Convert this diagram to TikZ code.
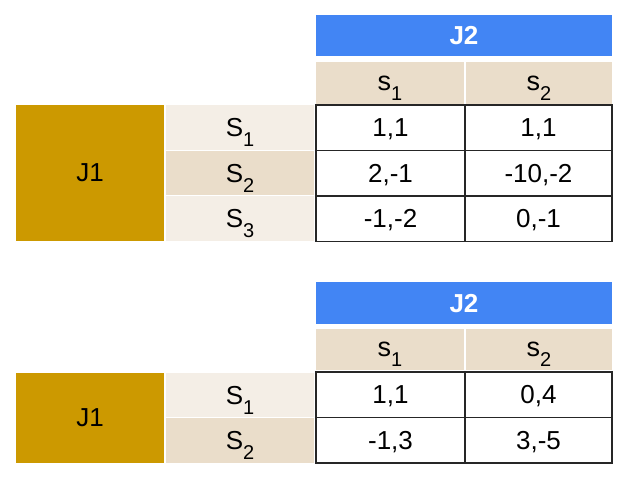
\documentclass[tikz,border=0pt]{standalone}
\usepackage{fontspec}
\setmainfont{Liberation Sans}
\usepackage{tikz}
\usetikzlibrary{positioning}
\definecolor{jblue}{HTML}{4285F4}
\definecolor{jgold}{HTML}{CC9900}
\definecolor{jtan}{HTML}{EADDCA}
\definecolor{jlight}{HTML}{F4EEE6}
\def\Sub#1{\raisebox{-10pt}[0pt][0pt]{\fontsize{20}{20}\selectfont #1}}
\tikzset{
  cell/.style={anchor=north west,inner sep=0pt,outer sep=0pt,text depth=0pt,font=\fontsize{26}{26}\selectfont},
  headJ2/.style={cell,fill=jblue,text=white,font=\fontsize{26}{26}\selectfont\bfseries,minimum width=296pt,minimum height=41pt},
  headJ1/.style={cell,fill=jgold,minimum width=148pt},
  colhead/.style={cell,fill=jtan,minimum height=42pt,font=\fontsize{27}{27}\selectfont},
  rowlight/.style={cell,fill=jlight,minimum width=148pt},
  rowtan/.style={cell,fill=jtan,minimum width=148pt},
  payoff/.style={cell,draw=black!85,line width=1.1pt,minimum height=45.5pt}
}

\begin{document}
\begin{tikzpicture}[x=1pt,y=-1pt]
  \useasboundingbox (0,0) rectangle (625,482);
  % upper game
  \node[headJ2] (aJ2) at (316,15) {J2};
  \node[colhead,minimum width=148pt] (as1) at (316,62) {s\Sub{1}};
  \node[colhead,minimum width=146pt] (as2) at (466,62) {s\Sub{2}};
  \node[headJ1,minimum height=136pt] (aJ1) at (16,105) {J1};
  \node[rowlight,minimum height=45pt] (aS1) at (166,105) {S\Sub{1}};
  \node[rowtan,minimum height=44pt] (aS2) at (166,151) {S\Sub{2}};
  \node[rowlight,minimum height=45pt] (aS3) at (166,196) {S\Sub{3}};
  %
  \node[payoff,minimum width=149pt] (a11) at (316,105) {1,1};
  \node[payoff,minimum width=147pt] (a12) at (465,105) {1,1};
  \node[payoff,minimum width=149pt] (a21) at (316,150.5) {2,-1};
  \node[payoff,minimum width=147pt] (a22) at (465,150.5) {-10,-2};
  \node[payoff,minimum width=149pt] (a31) at (316,196) {-1,-2};
  \node[payoff,minimum width=147pt] (a32) at (465,196) {0,-1};
  % lower game
  \node[headJ2,minimum height=42pt] (bJ2) at (316,282) {J2};
  \node[colhead,minimum width=148pt,minimum height=41pt] (bs1) at (316,329) {s\Sub{1}};
  \node[colhead,minimum width=146pt,minimum height=41pt] (bs2) at (466,329) {s\Sub{2}};
  \node[headJ1,minimum height=90pt] (bJ1) at (16,373) {J1};
  \node[rowlight,minimum height=44pt] (bS1) at (166,373) {S\Sub{1}};
  \node[rowtan,minimum height=45pt] (bS2) at (166,418) {S\Sub{2}};
  %
  \node[payoff,minimum width=149pt] (b11) at (316,372) {1,1};
  \node[payoff,minimum width=147pt] (b12) at (465,372) {0,4};
  \node[payoff,minimum width=149pt] (b21) at (316,417.5) {-1,3};
  \node[payoff,minimum width=147pt] (b22) at (465,417.5) {3,-5};
\end{tikzpicture}
\end{document}
